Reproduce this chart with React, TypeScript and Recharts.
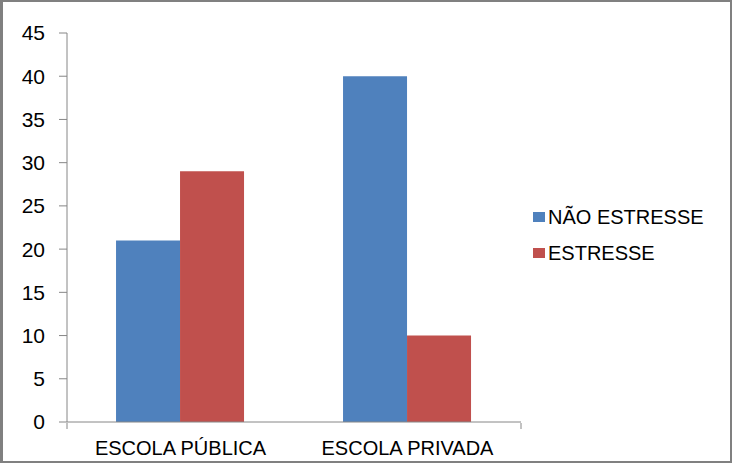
import { BarChart, Bar, XAxis, YAxis, Legend } from "recharts";

const categories = ["ESCOLA PÚBLICA", "ESCOLA PRIVADA"];
const naoEstresse = [21, 40];
const estresse = [29, 10];
const yTicks = [0, 5, 10, 15, 20, 25, 30, 35, 40, 45];
const boundaryTicks = [0, 1, 2];

const series = [
  { key: "naoEstresse", name: "NÃO ESTRESSE", color: "#4F81BD" },
  { key: "estresse", name: "ESTRESSE", color: "#C0504D" },
];

const data = categories.map((category, i) => ({
  category,
  naoEstresse: naoEstresse[i],
  estresse: estresse[i],
}));

const font = "'Liberation Sans', Arial, sans-serif";
const axisGray = "#868686";

function LegendBox() {
  return (
    <div style={{ width: 200, paddingLeft: 12, boxSizing: "border-box", fontFamily: font }}>
      {series.map((s) => (
        <div key={s.key} style={{ height: 36, display: "flex", alignItems: "center" }}>
          <span style={{ width: 12, height: 10, background: s.color, marginRight: 3, display: "inline-block" }} />
          <span style={{ fontSize: 20, color: "#000" }}>{s.name}</span>
        </div>
      ))}
    </div>
  );
}

export default function App() {
  return (
    <div style={{ position: "absolute", left: 0, top: 0, width: 732, height: 463, background: "#fff" }}>
      <BarChart
        width={732}
        height={463}
        data={data}
        margin={{ top: 33, right: 11, left: 10, bottom: 39 }}
        barCategoryGap="21.6%"
        barGap={0}
        style={{ position: "absolute", left: 0, top: 0 }}
      >
        <XAxis
          dataKey="category"
          height={1}
          tickLine={false}
          tickSize={0}
          tickMargin={19}
          axisLine={{ stroke: axisGray }}
          tick={{ fontSize: 20, fill: "#000", fontFamily: font }}
          interval={0}
        />
        <XAxis
          xAxisId="grid"
          type="number"
          domain={[0, 2]}
          ticks={boundaryTicks}
          allowDataOverflow
          height={1}
          axisLine={false}
          tickSize={6}
          tickLine={{ stroke: axisGray }}
          tick={() => <g />}
        />
        <YAxis
          width={57}
          domain={[0, 45]}
          ticks={yTicks}
          interval={0}
          tickSize={8}
          tickMargin={14}
          axisLine={{ stroke: axisGray }}
          tickLine={{ stroke: axisGray }}
          tick={{ fontSize: 21, fill: "#000", fontFamily: font }}
        />
        <Legend
          layout="vertical"
          align="right"
          verticalAlign="middle"
          wrapperStyle={{ top: 199 }}
          content={() => <LegendBox />}
        />
        {series.map((s) => (
          <Bar key={s.key} dataKey={s.key} name={s.name} fill={s.color} isAnimationActive={false} />
        ))}
      </BarChart>
      <div
        style={{
          position: "absolute",
          left: 0,
          top: 0,
          width: 732,
          height: 463,
          boxSizing: "border-box",
          borderTop: "2px solid #808080",
          borderRight: "2px solid #808080",
          borderBottom: "2px solid #808080",
          borderLeft: "3px solid #808080",
          pointerEvents: "none",
        }}
      />
    </div>
  );
}
